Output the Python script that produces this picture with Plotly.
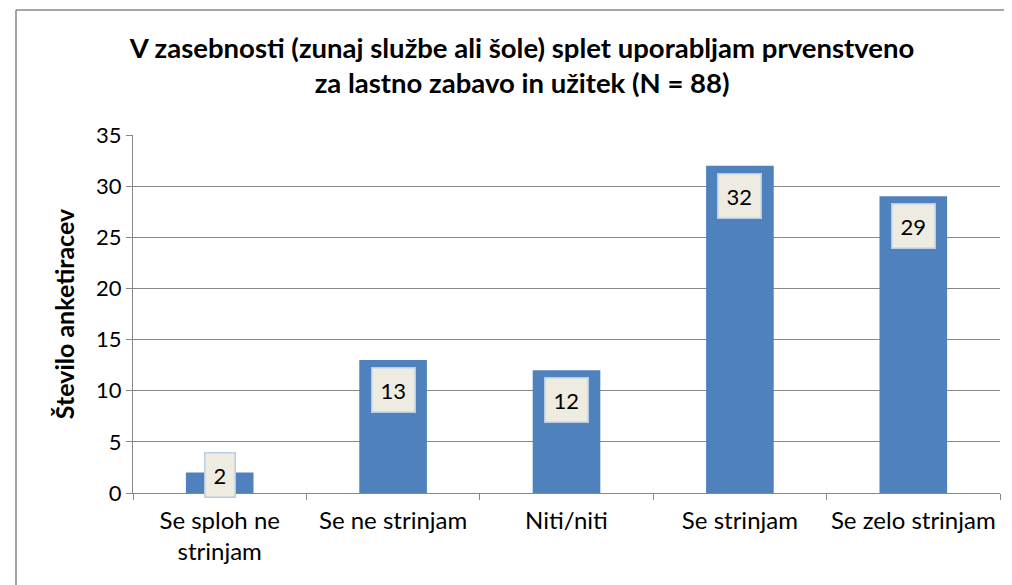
import plotly.graph_objects as go

categories = ["Se sploh ne<br>strinjam", "Se ne strinjam", "Niti/niti", "Se strinjam", "Se zelo strinjam"]
counts = [2, 13, 12, 32, 29]
y_ticks = [0, 5, 10, 15, 20, 25, 30, 35]

title_text = ("V zasebnosti (zunaj službe ali šole) splet uporabljam prvenstveno<br>"
              "za lastno zabavo in užitek (N = 88)")
y_title = "Število anketiracev"

FONT = "Lato, Open Sans, sans-serif"
W, H = 1012, 585
ML, MR, MT, MB = 125, 20, 127, 100

fig = go.Figure(go.Bar(x=categories, y=counts, marker=dict(color="#4F81BD", line=dict(width=0)),
                       hoverinfo="x+y"))

# data labels in little boxes just under the top of each bar
for cat, v in zip(categories, counts):
    fig.add_annotation(x=cat, y=max(v, 4.7), yanchor="top", yshift=-7, text=str(v), showarrow=False,
                       font=dict(family=FONT, size=22, color="black"),
                       bgcolor="#EEECE1", bordercolor="#B9CDE5", borderwidth=1.5, borderpad=8)

# outer chart frame (only top and left edges are inside the picture)
pw, ph = W - ML - MR, H - MT - MB
fx0 = (8 - ML) / pw
fy1 = 1 + (MT - 2) / ph
frame = dict(type="line", xref="paper", yref="paper", line=dict(color="#878787", width=1.5), layer="below")
fig.add_shape(x0=fx0, x1=1 + (MR + 5) / pw, y0=fy1, y1=fy1, **frame)
fig.add_shape(x0=fx0, x1=fx0, y0=fy1, y1=-MB / ph, **frame)

fig.update_layout(
    width=W, height=H,
    margin=dict(l=ML, r=MR, t=MT, b=MB),
    paper_bgcolor="white", plot_bgcolor="white",
    bargap=0.61,
    showlegend=False,
    title=dict(text="<b>" + title_text + "</b>", x=0.508, xanchor="center", y=0.915, yanchor="top",
               font=dict(family=FONT, size=27.5, color="black")),
    font=dict(family=FONT, color="black"),
)
fig.update_yaxes(range=[0, 35], tickvals=y_ticks, showgrid=True, gridcolor="#878787", gridwidth=1.3,
                 showline=True, linecolor="#878787", linewidth=1.3, ticks="outside", ticklen=6,
                 tickcolor="#878787", tickfont=dict(size=22, family=FONT), zeroline=False, automargin=False,
                 title=dict(text="<b>" + y_title + "</b>", font=dict(size=25, family=FONT), standoff=14))
fig.update_xaxes(showline=True, linecolor="#878787", linewidth=1.3, ticks="outside", ticklen=6,
                 tickcolor="#878787", tickson="boundaries", tickfont=dict(size=24, family=FONT),
                 tickangle=0, automargin=False, ticklabelstandoff=6)

fig.write_html("out.html")
